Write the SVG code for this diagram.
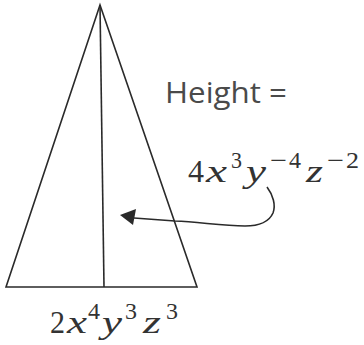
<svg xmlns="http://www.w3.org/2000/svg" width="364" height="345" viewBox="0 0 364 345">
<style>
.ln{fill:none;stroke:#2a2a2a;stroke-width:1.6;stroke-linejoin:miter}
.lbl{font-family:"Open Sans","Noto Sans",sans-serif;font-size:29px;fill:#4a4a4a}
.m{font-family:"Liberation Serif","DejaVu Serif",serif;fill:#333}
.v{font-style:italic}
.b{font-size:31px}
.s{font-size:23px}
</style>
<rect width="364" height="345" fill="#ffffff"/>
<g id="triangle">
<path class="ln" d="M6,287 L100,5 L197,287 Z"/>
<line class="ln" x1="100" y1="5" x2="104" y2="287"/>
</g>
<g id="height-label">
<text class="lbl" x="165" y="103" textLength="122" lengthAdjust="spacingAndGlyphs">Height =</text>
</g>
<g id="height-expr" class="m">
<text class="b" x="188" y="182" textLength="16" lengthAdjust="spacingAndGlyphs">4</text>
<text class="b v" x="206" y="182" textLength="21" lengthAdjust="spacingAndGlyphs">x</text>
<text class="s" x="231" y="168" textLength="11" lengthAdjust="spacingAndGlyphs">3</text>
<text class="b v" x="246" y="182" textLength="20" lengthAdjust="spacingAndGlyphs">y</text>
<text class="s" x="270" y="168" textLength="17" lengthAdjust="spacingAndGlyphs">−</text>
<text class="s" x="289" y="168" textLength="12" lengthAdjust="spacingAndGlyphs">4</text>
<text class="b v" x="306" y="182" textLength="17" lengthAdjust="spacingAndGlyphs">z</text>
<text class="s" x="327" y="168" textLength="17" lengthAdjust="spacingAndGlyphs">−</text>
<text class="s" x="346" y="168" textLength="13" lengthAdjust="spacingAndGlyphs">2</text>
</g>
<g id="base-expr" class="m">
<text class="b" x="50" y="333" textLength="15" lengthAdjust="spacingAndGlyphs">2</text>
<text class="b v" x="67" y="333" textLength="20" lengthAdjust="spacingAndGlyphs">x</text>
<text class="s" x="88" y="319" textLength="12" lengthAdjust="spacingAndGlyphs">4</text>
<text class="b v" x="102" y="333" textLength="20" lengthAdjust="spacingAndGlyphs">y</text>
<text class="s" x="125" y="319" textLength="12" lengthAdjust="spacingAndGlyphs">3</text>
<text class="b v" x="143" y="333" textLength="18" lengthAdjust="spacingAndGlyphs">z</text>
<text class="s" x="166" y="319" textLength="12" lengthAdjust="spacingAndGlyphs">3</text>
</g>
<g id="connectors">
<path class="ln" d="M267,187 C273,195 276,205 273,213 C269,222 258,226 245,226 C222,226 200,222 175,221 L134,218"/>
<polygon points="120,215 136,209 133,225" fill="#2a2a2a"/>
</g>
</svg>
